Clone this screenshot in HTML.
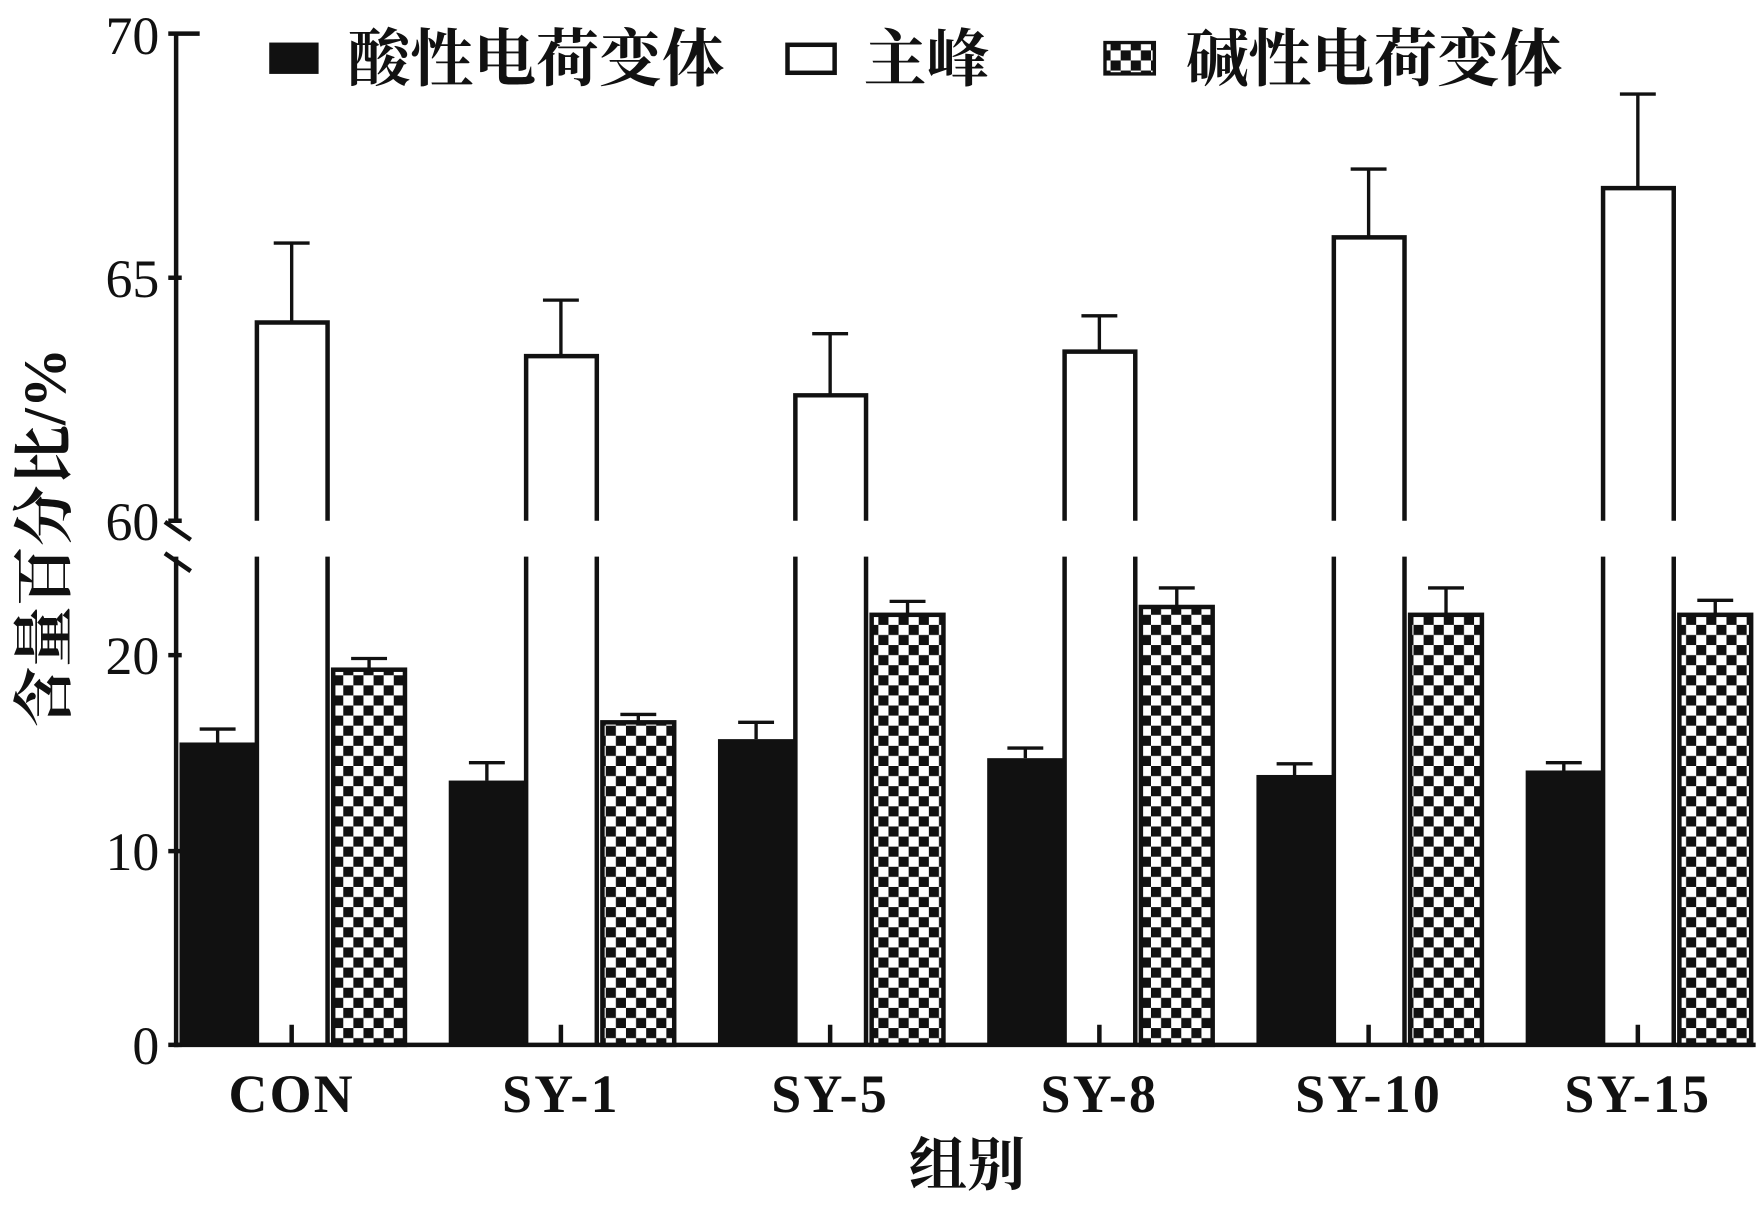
<!DOCTYPE html>
<html><head><meta charset="utf-8"><style>html,body{margin:0;padding:0;background:#fff}svg{display:block}</style></head>
<body>
<svg width="1759" height="1205" viewBox="0 0 1568 1076" preserveAspectRatio="none" xmlns="http://www.w3.org/2000/svg">
<defs>
<pattern id="ck" width="18" height="18" patternUnits="userSpaceOnUse">
<rect width="18" height="18" fill="#fff"/>
<rect width="9" height="9" fill="#111"/><rect x="9" y="9" width="9" height="9" fill="#111"/>
</pattern>
</defs>
<g stroke="#111" stroke-width="4" fill="none">
<line x1="157" y1="30" x2="157" y2="465"/>
<line x1="157" y1="497" x2="157" y2="935"/>
<line x1="155" y1="933" x2="1565" y2="933"/>
<line x1="150" y1="30" x2="178" y2="30"/>
<line x1="150" y1="248" x2="162" y2="248"/>
<line x1="150" y1="465" x2="162" y2="465"/>
<line x1="150" y1="585" x2="162" y2="585"/>
<line x1="150" y1="760" x2="162" y2="760"/>
<line x1="150" y1="933" x2="162" y2="933"/>
<line x1="147" y1="466" x2="170" y2="482"/>
<line x1="147" y1="494" x2="170" y2="510"/>
</g>
<g font-family="Liberation Serif, serif" font-size="48" fill="#111" text-anchor="end">
<text x="142" y="48">70</text><text x="142" y="265">65</text><text x="142" y="482">60</text>
<text x="142" y="602">20</text><text x="142" y="777">10</text><text x="142" y="950">0</text>
</g>
<g stroke="#111" stroke-width="3" fill="none">
<path d="M194 651V663M178 651H210M260 217V288M244 217H276M329 588V598M313 588H345"/>
<path d="M434 681V697M418 681H450M500 268V318M484 268H516M569 638V645M553 638H585"/>
<path d="M674 645V660M658 645H690M740 298V353M724 298H756M809 537V549M793 537H825"/>
<path d="M914 668V677M898 668H930M980 282V314M964 282H996M1049 525V542M1033 525H1065"/>
<path d="M1154 682V692M1138 682H1170M1220 151V212M1204 151H1236M1289 525V549M1273 525H1305"/>
<path d="M1394 681V688M1378 681H1410M1460 84V168M1444 84H1476M1529 536V549M1513 536H1545"/>
</g>
<g fill="#111">
<rect x="160" y="663" width="68" height="270"/>
<rect x="400" y="697" width="68" height="236"/>
<rect x="640" y="660" width="68" height="273"/>
<rect x="880" y="677" width="68" height="256"/>
<rect x="1120" y="692" width="68" height="241"/>
<rect x="1360" y="688" width="68" height="245"/>
</g>
<g stroke="#111" stroke-width="4" fill="none">
<path d="M229 465V288H292V465M229 497V933M292 497V933M260 915V933"/>
<path d="M469 465V318H532V465M469 497V933M532 497V933M500 915V933"/>
<path d="M709 465V353H772V465M709 497V933M772 497V933M740 915V933"/>
<path d="M949 465V314H1012V465M949 497V933M1012 497V933M980 915V933"/>
<path d="M1189 465V212H1252V465M1189 497V933M1252 497V933M1220 915V933"/>
<path d="M1429 465V168H1492V465M1429 497V933M1492 497V933M1460 915V933"/>
</g>
<g fill="url(#ck)" stroke="#111" stroke-width="4">
<rect x="297" y="598" width="64" height="335"/>
<rect x="537" y="645" width="64" height="288"/>
<rect x="777" y="549" width="64" height="384"/>
<rect x="1017" y="542" width="64" height="391"/>
<rect x="1257" y="549" width="64" height="384"/>
<rect x="1497" y="549" width="64" height="384"/>
</g>
<g font-family="Liberation Serif, serif" font-size="48" font-weight="bold" fill="#111" text-anchor="middle" letter-spacing="2">
<text x="260" y="993">CON</text><text x="500" y="993">SY-1</text><text x="740" y="993">SY-5</text>
<text x="980" y="993">SY-8</text><text x="1220" y="993">SY-10</text><text x="1460" y="993">SY-15</text>
</g>
<text x="862" y="1058" font-family="Liberation Serif, 'Noto Serif CJK SC', serif" font-size="52" font-weight="bold" text-anchor="middle" fill="#111">组别</text>
<text transform="translate(58,480) rotate(-90)" font-family="Liberation Serif, 'Noto Serif CJK SC', serif" font-size="54" font-weight="bold" text-anchor="middle" fill="#111">含量百分比/%</text>
<rect x="240" y="38" width="44" height="28" fill="#111"/>
<rect x="702" y="40" width="42" height="25" fill="#fff" stroke="#111" stroke-width="4"/>
<rect x="985" y="38" width="44" height="28" fill="url(#ck)" stroke="#111" stroke-width="3"/>
<g font-family="Liberation Serif, 'Noto Serif CJK SC', serif" font-size="56" font-weight="bold" fill="#111">
<text x="310" y="72">酸性电荷变体</text><text x="770" y="72">主峰</text><text x="1057" y="72">碱性电荷变体</text>
</g>
</svg>
</body></html>
